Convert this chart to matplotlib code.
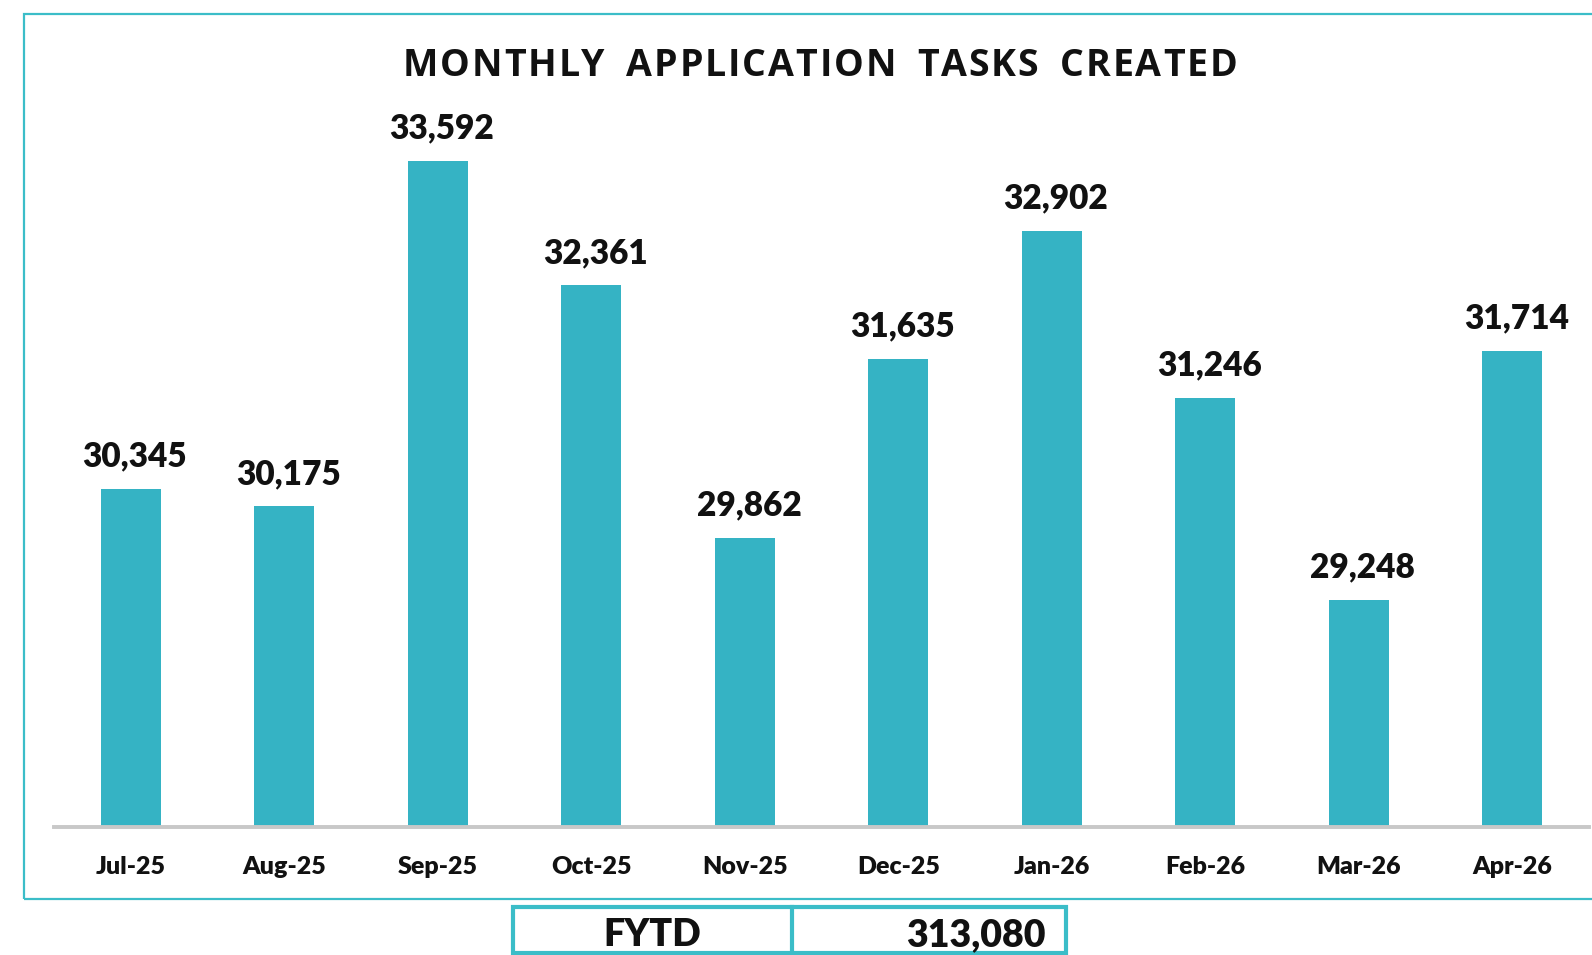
import matplotlib
matplotlib.use("Agg")
import matplotlib.pyplot as plt
from matplotlib.patches import Rectangle
from matplotlib.lines import Line2D
from matplotlib import font_manager
from matplotlib.font_manager import FontProperties
from matplotlib.ft2font import FT2Font

months = ["Jul-25", "Aug-25", "Sep-25", "Oct-25", "Nov-25", "Dec-25",
          "Jan-26", "Feb-26", "Mar-26", "Apr-26"]
tasks = [30345, 30175, 33592, 32361, 29862, 31635, 32902, 31246, 29248, 31714]
title = "MONTHLY APPLICATION TASKS CREATED"
fytd_label = "FYTD"
fytd_value = 313080

W, H = 1592, 955
DPI = 100
fig = plt.figure(figsize=(W / DPI, H / DPI), dpi=DPI)
fig.patch.set_facecolor("white")

def fx(px):
    return px / W

def fy(py):
    return 1 - py / H

teal = "#3bbdc8"
bar_color = "#35b3c4"
ink = "#111111"
lab_font = dict(fontfamily="Lato", fontweight="heavy", color=ink)

# outer frame
fig.add_artist(Rectangle((fx(24), fy(899)), fx(1700 - 24), fy(14) - fy(899),
                         transform=fig.transFigure, fill=False,
                         edgecolor=teal, linewidth=1.6))

# axes: bottom at 827px, top at 100px
ax_left, ax_right, ax_top, ax_bot = 54, 1589, 100, 827
ax = fig.add_axes([fx(ax_left), fy(ax_bot), fx(ax_right - ax_left), fy(ax_top) - fy(ax_bot)])
ymin = 27000
scale = 0.10106  # px per unit
ymax = ymin + (ax_bot - ax_top) / scale
x = list(range(len(months)))
ax.bar(x, [t - ymin for t in tasks], bottom=ymin, width=0.39, color=bar_color, zorder=2)
ax.set_xlim(-0.5, len(months) - 0.5)
ax.set_ylim(ymin, ymax)
for s in ["top", "right", "left"]:
    ax.spines[s].set_visible(False)
ax.spines["bottom"].set_color("#c8c8c8")
ax.spines["bottom"].set_linewidth(2.8)
ax.set_yticks([])
ax.set_xticks(x)
ax.set_xticklabels(months, fontsize=18, **lab_font)
ax.tick_params(axis="x", length=0, pad=21)
ax.set_facecolor("none")

for i, v in enumerate(tasks):
    ax.annotate(f"{v:,}", (i, v), xytext=(3, 16), textcoords="offset points",
                ha="center", va="baseline", fontsize=24, **lab_font)

# title with letter spacing (extra gap between words)
t_size = 27
t_prop = FontProperties(family="Open Sans", weight="bold", size=t_size)
font = FT2Font(font_manager.findfont(t_prop))
font.set_size(t_size, DPI)
advs = []
for c in title:
    g = font.load_char(ord(c))
    advs.append(g.linearHoriAdvance / 65536.0)
t_left, t_right = 403, 1237
word_extra = 8
n_spaces = title.count(" ")
track = ((t_right - t_left) - sum(advs) - n_spaces * word_extra) / (len(title) - 1)
pos = t_left
for c, a in zip(title, advs):
    if c != " ":
        fig.text(fx(pos), fy(76), c, ha="left", va="baseline",
                 fontproperties=t_prop, color=ink)
        pos += a + track
    else:
        pos += a + track + word_extra

# FYTD table
bx0, bx1, by0, by1, bdiv = 513, 1066, 907, 953, 792
fig.add_artist(Rectangle((fx(bx0), fy(by1)), fx(bx1 - bx0), fy(by0) - fy(by1),
                         transform=fig.transFigure, fill=False,
                         edgecolor=teal, linewidth=3))
fig.add_artist(Line2D([fx(bdiv), fx(bdiv)], [fy(by0), fy(by1)],
                      transform=fig.transFigure, color=teal, linewidth=3))
fig.text(fx((bx0 + bdiv) / 2), fy(935), fytd_label, ha="center", va="center",
         fontsize=27, **lab_font)
fig.text(fx(1046), fy(935), f"{fytd_value:,}", ha="right", va="center",
         fontsize=27, **lab_font)

fig.savefig("out.png", dpi=DPI, facecolor="white")
